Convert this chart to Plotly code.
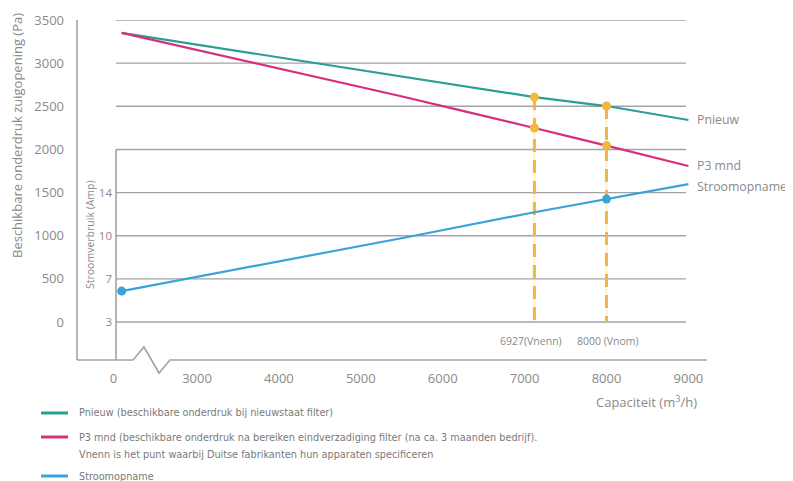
import plotly.graph_objects as go

# ---------------- data (display-axis units; x-axis is broken between "0" and 3000) ----------------
capacity = [2080, 5480, 7120, 8000, 9000]          # capaciteit (m3/h, display position)
pnieuw = [3350, 2852, 2607, 2503, 2341]            # Pa
p3mnd = [3350, 2619, 2248, 2045, 1808]             # Pa
stroom_amp = [5.87, 9.81, 12.18, 13.4, 14.79]      # Amp

vlines_x = [7120, 8000]                            # Vnenn / Vnom positions
vlines_labels = ["6927(Vnenn)", "8000 (Vnom)"]

x_tickvals = [1980, 3000, 4000, 5000, 6000, 7000, 8000, 9000]
x_ticktext = ["0", "3000", "4000", "5000", "6000", "7000", "8000", "9000"]
pa_ticks = [0, 500, 1000, 1500, 2000, 2500, 3000, 3500]
amp_ticks = [3, 7, 10, 14]
amp_pos = [0, 500, 1000, 1500]                      # where amp labels sit on the Pa grid

series_names = ["Pnieuw", "P3 mnd", "Stroomopname"]
legend_lines = [
    ["Pnieuw (beschikbare onderdruk bij nieuwstaat filter)"],
    ["P3 mnd (beschikbare onderdruk na bereiken eindverzadiging filter (na ca. 3 maanden bedrijf).",
     "Vnenn is het punt waarbij Duitse fabrikanten hun apparaten specificeren"],
    ["Stroomopname"],
]

TEAL = "#2a9f94"
PINK = "#d6307c"
BLUE = "#3aa3d9"
ORANGE = "#f4b63f"
GRID = "#a3a3a3"
TXT = "#8a8a8a"
FONT = "Open Sans"
NARROW = "DejaVu Sans Condensed, Lato"


def amp_to_pos(a):
    # piecewise-linear mapping of the (non-linear) amp labels onto the grid
    for i in range(len(amp_ticks) - 1):
        if a <= amp_ticks[i + 1] or i == len(amp_ticks) - 2:
            a0, a1 = amp_ticks[i], amp_ticks[i + 1]
            p0, p1 = amp_pos[i], amp_pos[i + 1]
            return p0 + (a - a0) * (p1 - p0) / (a1 - a0)


stroom_pos = [amp_to_pos(a) for a in stroom_amp]

# ---------------- layout geometry (screen pixels; page body has an 8px margin) ----------------
OFF = 8
W, H = 793 - OFF, 481 - OFF
SL, SR, ST, SB = 77, 707, 20, 360          # plot box in screen pixels
L, R, T, B = SL - OFF, SR - OFF, ST - OFF, SB - OFF
PW, PH = R - L, B - T


def px(xs):
    return (xs - SL) / PW


def py(ys):
    return (SB - ys) / PH


fig = go.Figure()

# vertical dashed lines (pale solid under-line + dashes)
for vx in vlines_x:
    top = pnieuw[capacity.index(vx)]
    fig.add_trace(go.Scatter(x=[vx, vx], y=[top, 0], mode="lines",
                             line=dict(color="rgba(244,182,63,0.25)", width=1.5),
                             showlegend=False, hoverinfo="skip"))
    fig.add_trace(go.Scatter(x=[vx, vx], y=[top, 0], mode="lines",
                             line=dict(color=ORANGE, width=3, dash="13px,8px"),
                             showlegend=False, hoverinfo="skip"))

fig.add_trace(go.Scatter(x=capacity, y=pnieuw, mode="lines", name=series_names[0],
                         line=dict(color=TEAL, width=2.2), showlegend=False))
fig.add_trace(go.Scatter(x=capacity, y=p3mnd, mode="lines", name=series_names[1],
                         line=dict(color=PINK, width=2.2, shape="spline", smoothing=0.6),
                         showlegend=False))
fig.add_trace(go.Scatter(x=capacity, y=stroom_pos, mode="lines", name=series_names[2],
                         line=dict(color=BLUE, width=2.2), showlegend=False, yaxis="y2",
                         customdata=stroom_amp, hovertemplate="%{x}: %{customdata} A"))

# orange dots
dx, dy = [], []
for vx in vlines_x:
    i = capacity.index(vx)
    dx += [vx, vx]
    dy += [pnieuw[i], p3mnd[i]]
fig.add_trace(go.Scatter(x=dx, y=dy, mode="markers", marker=dict(color=ORANGE, size=9),
                         showlegend=False, hoverinfo="skip"))
# blue dots
bi = [0, capacity.index(8000)]
fig.add_trace(go.Scatter(x=[capacity[i] for i in bi], y=[stroom_pos[i] for i in bi],
                         mode="markers", marker=dict(color=BLUE, size=9),
                         showlegend=False, hoverinfo="skip", yaxis="y2"))

shapes = []
# horizontal gridlines
for v in pa_ticks:
    shapes.append(dict(type="line", xref="paper", yref="y", x0=px(116), x1=px(686), y0=v, y1=v,
                       line=dict(color=GRID, width=1.4), layer="below"))
# left axis line
shapes.append(dict(type="line", xref="paper", yref="paper", x0=0, x1=0, y0=0, y1=1,
                   line=dict(color=GRID, width=1.6)))
# inner (amp) axis line
shapes.append(dict(type="line", xref="paper", yref="y", x0=px(116), x1=px(116), y0=2000,
                   y1=-440, line=dict(color=GRID, width=1.6)))
# bottom axis with break
pts = [(77, 360), (133, 360), (144, 347), (159, 373), (170, 360), (707, 360)]
path = "M " + " L ".join(f"{px(a):.5f},{py(b):.5f}" for a, b in pts)
shapes.append(dict(type="path", xref="paper", yref="paper", path=path,
                   line=dict(color=GRID, width=1.6)))

annotations = []
# right-hand series labels
ends = [pnieuw[-1] + 10, p3mnd[-1] + 10, stroom_pos[-1] - 25]
for name, yv in zip(series_names, ends):
    annotations.append(dict(x=capacity[-1], y=yv, xref="x", yref="y", text=name, showarrow=False,
                            xanchor="left", yanchor="middle", xshift=7,
                            font=dict(family=FONT, size=12.3, color=TXT)))
# Vnenn / Vnom labels
for vx, lab, sh in zip(vlines_x, vlines_labels, [-3, 1]):
    annotations.append(dict(x=vx, y=py(341), xref="x", yref="paper", text=lab, showarrow=False,
                            xanchor="center", yanchor="middle", xshift=sh,
                            font=dict(family=FONT, size=10.5, color=TXT)))
# axis titles
annotations.append(dict(x=px(17), y=py(136), xref="paper", yref="paper", textangle=-90,
                        xanchor="center", yanchor="middle",
                        text="Beschikbare onderdruk zuigopening (Pa)", showarrow=False,
                        font=dict(family=FONT, size=13, color=TXT)))
annotations.append(dict(x=px(90), y=py(235), xref="paper", yref="paper", textangle=-90,
                        xanchor="center", yanchor="middle",
                        text="Stroomverbruik (Amp)", showarrow=False,
                        font=dict(family=FONT, size=10.5, color=TXT)))
annotations.append(dict(x=px(699), y=py(401), xref="paper", yref="paper", xanchor="right",
                        yanchor="middle", text="Capaciteit (m<sup>3</sup>/h)", showarrow=False,
                        font=dict(family=FONT, size=13, color=TXT)))

# manual legend
leg_rows = [413, 437, 476]
leg_text_ys = [[413], [437, 455], [476]]
for col, ly, tys, lines in zip([TEAL, PINK, BLUE], leg_rows, leg_text_ys, legend_lines):
    shapes.append(dict(type="line", xref="paper", yref="paper", x0=px(41), x1=px(68),
                       y0=py(ly), y1=py(ly), line=dict(color=col, width=3)))
    for ty, txt in zip(tys, lines):
        annotations.append(dict(x=px(77), y=py(ty), xref="paper", yref="paper", xanchor="left",
                                yanchor="middle", align="left", text=txt, showarrow=False,
                                font=dict(family=NARROW, size=10.8, color="#7a7a7a")))

fig.update_layout(
    width=W, height=H,
    margin=dict(l=L, r=W - R, t=T, b=H - B, autoexpand=False),
    paper_bgcolor="white", plot_bgcolor="white",
    showlegend=False,
    xaxis=dict(range=[1535, 9227], tickvals=x_tickvals, ticktext=x_ticktext, automargin=False,
               showgrid=False, zeroline=False, showline=False, ticks="",
               ticklabelstandoff=9, tickfont=dict(family=FONT, size=13, color=TXT)),
    yaxis=dict(range=[-440, 3500], tickvals=pa_ticks, showgrid=False, zeroline=False,
               showline=False, ticks="", ticklabelstandoff=12, automargin=False,
               tickfont=dict(family=FONT, size=13, color=TXT)),
    yaxis2=dict(range=[-440, 3500], overlaying="y", anchor="free", position=px(116),
                side="left", tickvals=amp_pos, ticktext=[str(a) for a in amp_ticks],
                showgrid=False, zeroline=False, showline=False, ticks="", automargin=False,
                ticklabelstandoff=4, tickfont=dict(family=FONT, size=11.5, color=TXT)),
    shapes=shapes, annotations=annotations,
)

fig.write_html("out.html")
